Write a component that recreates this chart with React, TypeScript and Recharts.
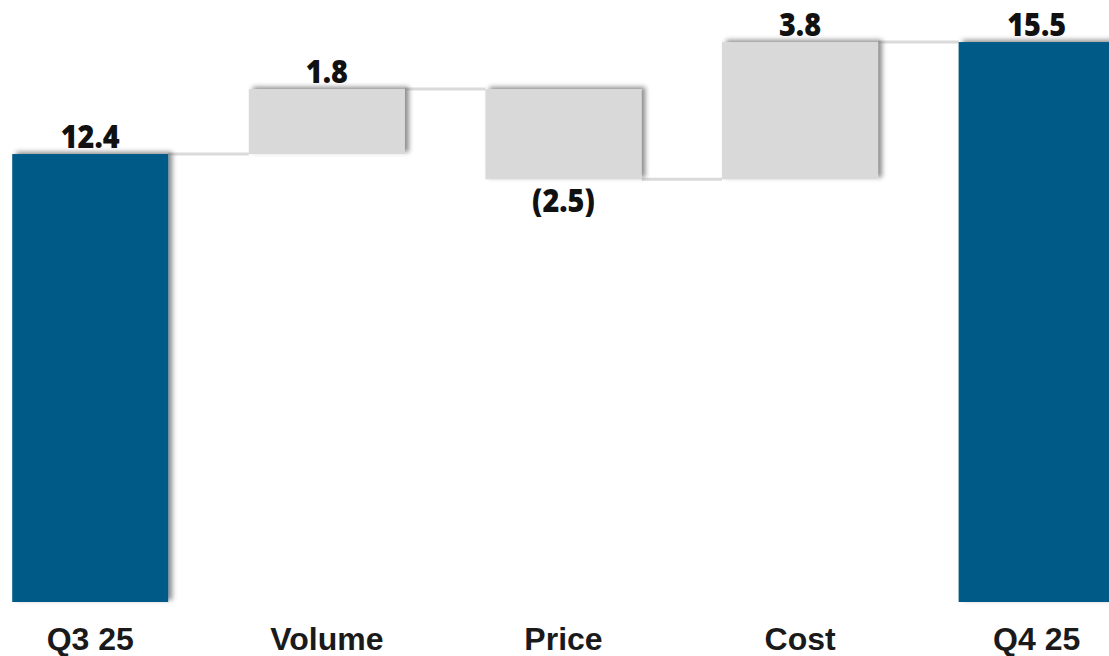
import React from 'react';
import { BarChart, Bar, XAxis, YAxis, LabelList } from 'recharts';

// Bridge from Q3 to Q4 result
const categories = ['Q3 25', 'Volume', 'Price', 'Cost', 'Q4 25'];
const deltas = [12.4, 1.8, -2.5, 3.8, 15.5];
const totalFlags = [true, false, false, false, true];

const BLUE = '#005A87';
const GREY = '#D9D9D9';
const CONNECTOR = '#DADADA';

const CHART_W = 1183;
const CHART_H = 656;
const BAND = CHART_W / categories.length;

// invisible base + visible step for each column
let running = 0;
const rows = categories.map((name, i) => {
  const d = deltas[i];
  let base: number;
  if (totalFlags[i]) {
    base = 0;
    running = d;
  } else {
    base = d < 0 ? running + d : running;
    running += d;
  }
  return { name, base, value: Math.abs(d), delta: d, total: totalFlags[i] };
});

const StepBar = (props: any) => {
  const { x, y, width, height, index, payload } = props;
  const endY = payload.delta < 0 ? y + height : y;
  const last = index === rows.length - 1;
  return (
    <g>
      {!last && (
        <line
          x1={x + width}
          x2={x + BAND}
          y1={endY}
          y2={endY}
          stroke={CONNECTOR}
          strokeWidth={3}
        />
      )}
      <rect
        x={x}
        y={y}
        width={width}
        height={height}
        fill={payload.total ? BLUE : GREY}
        filter="url(#barShadow)"
      />
    </g>
  );
};

const ValueLabel = (props: any) => {
  const { x, y, width, height, value } = props;
  const neg = value < 0;
  const cx = x + width / 2;
  const ty = neg ? y + height + 33 : y - 6;
  const text = neg ? `(${Math.abs(value).toFixed(1)})` : Number(value).toFixed(1);
  return (
    <text
      transform={`translate(${cx},${ty}) scale(0.9,1)`}
      textAnchor="middle"
      fontFamily="'Open Sans', 'DejaVu Sans', sans-serif"
      fontWeight={800}
      fontSize={32}
      fill="#111"
    >
      {text}
    </text>
  );
};

const CategoryTick = (props: any) => {
  const { x, y, payload } = props;
  return (
    <text
      x={x}
      y={y + 40}
      textAnchor="middle"
      fontFamily="'Liberation Sans', Arial, sans-serif"
      fontWeight={700}
      fontSize={32}
      fill="#1a1a1a"
    >
      {payload.value}
    </text>
  );
};

export default function App() {
  return (
    <div
      style={{
        position: 'fixed',
        left: 0,
        top: 0,
        width: 1109,
        height: 656,
        overflow: 'hidden',
        background: '#fff',
      }}
    >
      <svg width={0} height={0} style={{ position: 'absolute' }}>
        <defs>
          <filter id="barShadow" x="-10%" y="-10%" width="130%" height="130%">
            <feDropShadow dx={4} dy={-2} stdDeviation={2.5} floodColor="#000" floodOpacity={0.45} />
          </filter>
        </defs>
      </svg>
      <div style={{ position: 'absolute', left: -28, top: 0 }}>
        <BarChart
          width={CHART_W}
          height={CHART_H}
          data={rows}
          margin={{ top: 24, right: 0, bottom: 0, left: 0 }}
          barCategoryGap="17%"
        >
          <XAxis
            dataKey="name"
            axisLine={false}
            tickLine={false}
            height={54}
            interval={0}
            tick={<CategoryTick />}
          />
          <YAxis hide domain={[0, 16]} />
          <Bar dataKey="base" stackId="w" fill="transparent" isAnimationActive={false} />
          <Bar dataKey="value" stackId="w" shape={<StepBar />} isAnimationActive={false}>
            <LabelList dataKey="delta" content={<ValueLabel />} />
          </Bar>
        </BarChart>
      </div>
    </div>
  );
}
